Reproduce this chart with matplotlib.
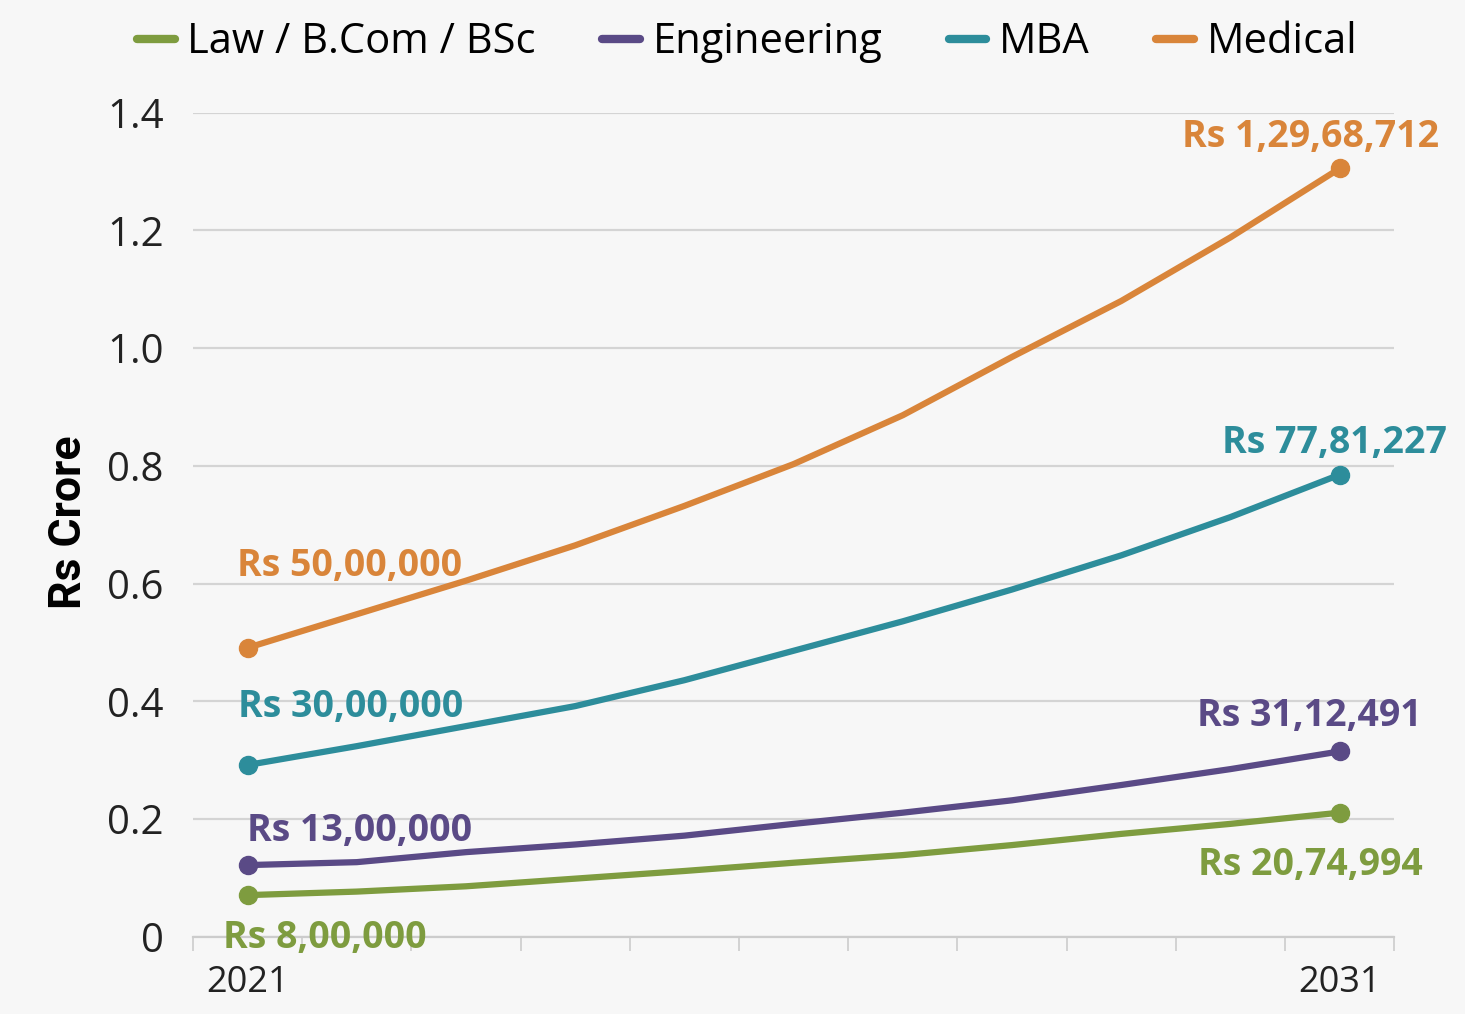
import matplotlib
matplotlib.use('Agg')
import matplotlib.pyplot as plt

# data (Rs crore)
years = [2021, 2022, 2023, 2024, 2025, 2026, 2027, 2028, 2029, 2030, 2031]
law = [0.071, 0.077, 0.086, 0.099, 0.112, 0.126, 0.139, 0.156, 0.175, 0.192, 0.211]
engineering = [0.122, 0.127, 0.144, 0.157, 0.172, 0.192, 0.211, 0.232, 0.258, 0.285, 0.315]
mba = [0.292, 0.324, 0.358, 0.392, 0.436, 0.486, 0.536, 0.590, 0.648, 0.713, 0.785]
medical = [0.491, 0.548, 0.605, 0.665, 0.732, 0.803, 0.886, 0.985, 1.080, 1.188, 1.305]

names = ['Law / B.Com / BSc', 'Engineering', 'MBA', 'Medical']
colors = ['#7e9c3f', '#5a4a86', '#2d8d9b', '#d9853a']
start_labels = ['Rs 8,00,000', 'Rs 13,00,000', 'Rs 30,00,000', 'Rs 50,00,000']
end_labels = ['Rs 20,74,994', 'Rs 31,12,491', 'Rs 77,81,227', 'Rs 1,29,68,712']
yticks = [0, 0.2, 0.4, 0.6, 0.8, 1.0, 1.2, 1.4]
ytick_labels = ['0', '0.2', '0.4', '0.6', '0.8', '1.0', '1.2', '1.4']

# label offsets in pixels (start, end)
start_off = [(77, -43), (112, 34), (103, 58), (102, 82)]
end_off = [(-29, -52), (-30, 35), (-5, 32), (-29, 31)]

plt.rcParams['font.family'] = ['Open Sans', 'DejaVu Sans']

fig = plt.figure(figsize=(14.65, 10.14), dpi=100, facecolor='#f7f7f7')
ax = fig.add_axes([0.1317, 0.076, 0.82, 0.813])
ax.set_facecolor('none')

x = list(range(len(years)))
series = [law, engineering, mba, medical]
for i, vals in enumerate(series):
    ax.plot(x, vals, color=colors[i], lw=4.5, solid_capstyle='round',
            solid_joinstyle='round', marker='o', markersize=13,
            markevery=[0, len(vals) - 1], label=names[i], zorder=3)
    ax.annotate(start_labels[i], (x[0], vals[0]), xytext=start_off[i],
                textcoords='offset pixels', ha='center', va='center',
                fontsize=27, fontweight='bold', color=colors[i], zorder=4)
    ax.annotate(end_labels[i], (x[-1], vals[-1]), xytext=end_off[i],
                textcoords='offset pixels', ha='center', va='center',
                fontsize=27, fontweight='bold', color=colors[i], zorder=4)

ax.set_xlim(-0.5, len(years) - 0.5)
ax.set_ylim(0, 1.4)
ax.set_yticks(yticks)
ax.set_yticklabels(ytick_labels, fontsize=29, color='#222222')
ax.tick_params(axis='y', length=0, pad=21)
ax.grid(axis='y', color='#d4d4d4', lw=1.6, zorder=0)

# category boundaries as ticks, only first/last years labelled
ax.set_xticks([i - 0.5 for i in range(len(years) + 1)])
ax.set_xticklabels([])
ax.set_xticks(x, minor=True)
ax.set_xticklabels([str(years[0])] + [''] * (len(years) - 2) + [str(years[-1])],
                   minor=True, fontsize=26, color='#222222')
ax.tick_params(axis='x', which='major', length=10, width=1.2, color='#cccccc')
ax.tick_params(axis='x', which='minor', length=0, pad=20)

for s in ['top', 'right', 'left']:
    ax.spines[s].set_visible(False)
ax.spines['bottom'].set_color('#cccccc')
ax.spines['bottom'].set_linewidth(1.6)

fig.text(0.047, 0.485, 'Rs Crore', rotation=90, ha='center', va='center',
         fontsize=32, fontweight='bold', family=['Roboto', 'DejaVu Sans'])

leg = fig.legend(loc='upper center', bbox_to_anchor=(0.51, 1.016), ncol=4,
                 frameon=False, fontsize=30, handlelength=0.9,
                 handletextpad=0.3, columnspacing=1.6)
for h in leg.legend_handles:
    h.set_marker('')
    h.set_linewidth(6)

fig.savefig('out.png', dpi=100, facecolor=fig.get_facecolor())
